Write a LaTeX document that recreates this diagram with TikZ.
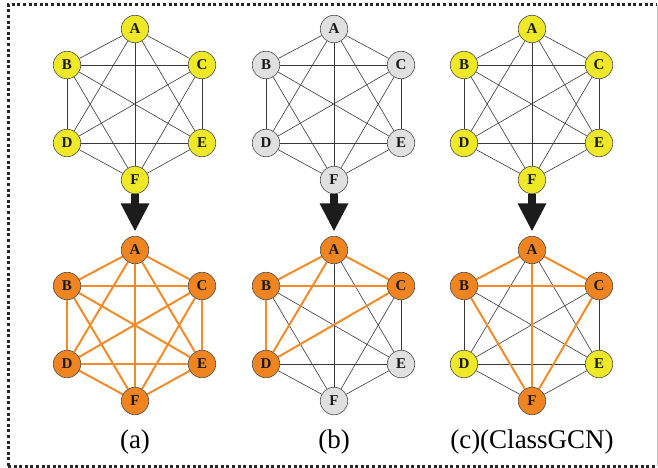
\documentclass[tikz,border=0pt]{standalone}
\usepackage{fontspec}
\setmainfont{Liberation Serif}
\newfontfamily\timesface{Liberation Serif}
\usetikzlibrary{calc}
\pgfdeclarelayer{background}
\pgfsetlayers{background,main}

\definecolor{nodeyellow}{RGB}{238,232,38}
\definecolor{nodeorange}{RGB}{240,132,32}
\definecolor{nodegray}{RGB}{224,224,224}
\definecolor{edgeorange}{RGB}{242,140,42}
\definecolor{arrowdark}{RGB}{28,28,28}

\tikzset{
  vtx/.style={circle, draw=black!70, line width=0.6pt, minimum size=27.5pt,
    inner sep=0pt, text=black!90, font=\timesface\bfseries\fontsize{15}{15}\selectfont},
  plainedge/.style={draw=black!78, line width=0.6pt},
  hotedge/.style={draw=edgeorange, line width=2pt},
  framedots/.style={draw=black!85, line width=3pt, dash pattern=on 3pt off 2.6pt},
  caption/.style={font=\timesface\fontsize{27}{27}\selectfont, anchor=base},
  bigarrow/.style={fill=arrowdark}
}

% six vertices of one hexagon graph: prefix, centre x, y of A, colours of A..F
\newcommand\hexnodes[9]{%
  \node[vtx, fill=#4] (#1A) at (#2,#3) {A};
  \node[vtx, fill=#5] (#1B) at ($(#2,#3)+(-68,36)$) {B};
  \node[vtx, fill=#6] (#1C) at ($(#2,#3)+(67,36)$) {C};
  \node[vtx, fill=#7] (#1D) at ($(#2,#3)+(-68,114)$) {D};
  \node[vtx, fill=#8] (#1E) at ($(#2,#3)+(67,114)$) {E};
  \node[vtx, fill=#9] (#1F) at ($(#2,#3)+(0,151)$) {F};
}
% complete graph on the six vertices
\newcommand\hexedges[1]{%
  \begin{pgfonlayer}{background}
  \foreach \u/\v in {A/B,A/C,A/D,A/E,A/F,B/C,B/D,B/E,B/F,C/D,C/E,C/F,D/E,D/F,E/F}
    \draw[plainedge] (#1\u) -- (#1\v);
  \end{pgfonlayer}
}
% highlighted edges drawn over the plain ones
\newcommand\hotedges[2]{%
  \begin{pgfonlayer}{background}
  \foreach \u/\v in {#2}
    \draw[hotedge] (#1\u) -- (#1\v);
  \end{pgfonlayer}
}
% thick downward arrow between two vertices
\newcommand\stagearrow[2]{%
  \fill[bigarrow] ([xshift=-4pt]#1.south) rectangle ([xshift=4pt,yshift=-10pt]#1.south);
  \fill[bigarrow] ([xshift=-14.5pt,yshift=-9.25pt]#1.south)
    -- ([xshift=14.5pt,yshift=-9.25pt]#1.south)
    -- ([yshift=5pt]#2.north) -- cycle;
}

\begin{document}
\begin{tikzpicture}[x=1pt,y=-1pt]
  \useasboundingbox (0,0) rectangle (658,468);

  % dotted frame
  \draw[framedots] (8,466) -- (8,5) -- (657,5);
  \draw[framedots] (8,466) -- (657,466);
  \draw[black!25, line width=0.5pt] (657,5) -- (657,466);

  % (a)
  \hexnodes{ta}{135}{29}{nodeyellow}{nodeyellow}{nodeyellow}{nodeyellow}{nodeyellow}{nodeyellow}
  \hexedges{ta}
  \hexnodes{ba}{135}{250}{nodeorange}{nodeorange}{nodeorange}{nodeorange}{nodeorange}{nodeorange}
  \hexedges{ba}
  \hotedges{ba}{A/B,A/C,A/D,A/E,A/F,B/C,B/D,B/E,B/F,C/D,C/E,C/F,D/E,D/F,E/F}
  \stagearrow{taF}{baA}
  \node[caption] (capa) at (135,448) {(a)};

  % (b)
  \hexnodes{tb}{334}{29}{nodegray}{nodegray}{nodegray}{nodegray}{nodegray}{nodegray}
  \hexedges{tb}
  \hexnodes{bb}{334}{250}{nodeorange}{nodeorange}{nodeorange}{nodeorange}{nodegray}{nodegray}
  \hexedges{bb}
  \hotedges{bb}{A/B,A/C,A/D,B/C,B/D,C/D}
  \stagearrow{tbF}{bbA}
  \node[caption] (capb) at (334,448) {(b)};

  % (c)
  \hexnodes{tc}{532}{29}{nodeyellow}{nodeyellow}{nodeyellow}{nodeyellow}{nodeyellow}{nodeyellow}
  \hexedges{tc}
  \hexnodes{bc}{532}{250}{nodeorange}{nodeorange}{nodeorange}{nodeyellow}{nodeyellow}{nodeorange}
  \hexedges{bc}
  \hotedges{bc}{A/B,A/C,A/F,B/C,B/F,C/F}
  \stagearrow{tcF}{bcA}
  \node[caption] (capc) at (532,448) {(c)(ClassGCN)};
\end{tikzpicture}
\end{document}
